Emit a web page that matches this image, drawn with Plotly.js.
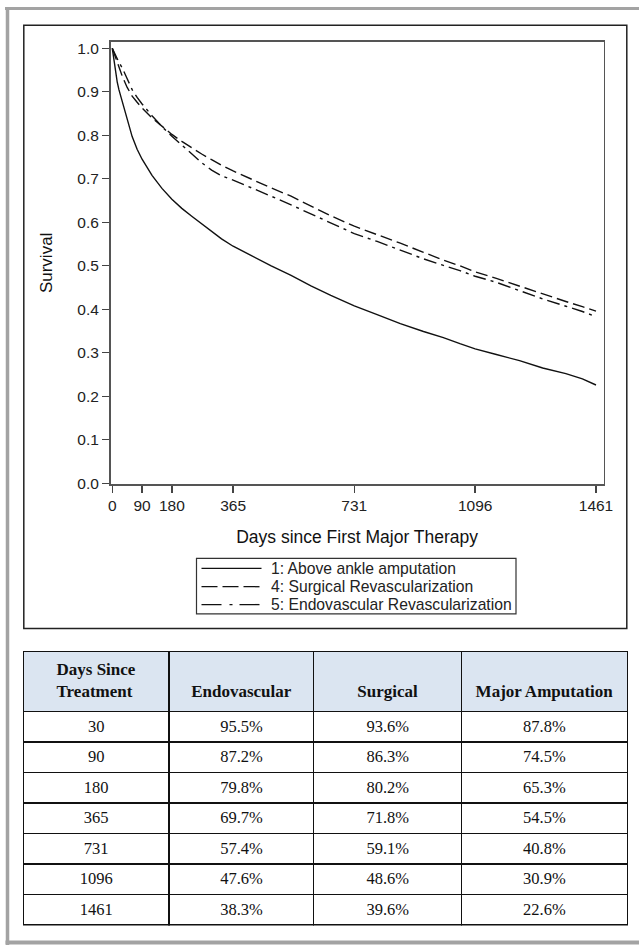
<!DOCTYPE html>
<html>
<head>
<meta charset="utf-8">
<script src="https://cdn.plot.ly/plotly-3.0.1.min.js"></script>
<style>
html,body{margin:0;padding:0;background:#fff;}
#chart{width:639px;height:946px;}
</style>
</head>
<body>
<div id="chart"></div>
<script>
// ---- Curve data ----
var curveDays = [0,5,10,15,20,30,45,60,75,90,120,150,180,210,240,270,300,330,365,420,480,540,600,660,731,800,870,940,1000,1050,1096,1160,1230,1300,1370,1420,1461];
var amputationSurv = [1.0,0.97,0.945,0.922,0.905,0.878,0.835,0.797,0.768,0.745,0.708,0.678,0.653,0.632,0.614,0.597,0.581,0.562,0.545,0.523,0.5,0.478,0.454,0.432,0.408,0.388,0.367,0.349,0.335,0.321,0.309,0.296,0.282,0.265,0.252,0.24,0.226];
var surgicalSurv = [1.0,0.989,0.978,0.966,0.955,0.936,0.91,0.89,0.876,0.863,0.84,0.82,0.802,0.786,0.771,0.757,0.744,0.731,0.718,0.699,0.679,0.66,0.638,0.615,0.591,0.572,0.552,0.531,0.513,0.5,0.486,0.471,0.453,0.435,0.418,0.406,0.396];
var endovascularSurv = [1.0,0.993,0.985,0.976,0.968,0.955,0.93,0.905,0.887,0.872,0.845,0.82,0.798,0.777,0.756,0.737,0.72,0.707,0.697,0.68,0.66,0.64,0.619,0.597,0.574,0.556,0.536,0.516,0.501,0.489,0.476,0.462,0.443,0.424,0.407,0.395,0.383];
var seriesNames = ["1: Above ankle amputation","4: Surgical Revascularization","5: Endovascular Revascularization"];

// ---- Axis ticks ----
var xTicks = [0,90,180,365,731,1096,1461];
var yTicks = [0,0.1,0.2,0.3,0.4,0.5,0.6,0.7,0.8,0.9,1.0];

// ---- Table data ----
var tableHeaders = ["Days Since<br>Treatment","Endovascular","Surgical","Major Amputation"];
var tableDays = [30,90,180,365,731,1096,1461];
var tableEndo = [95.5,87.2,79.8,69.7,57.4,47.6,38.3];
var tableSurg = [93.6,86.3,80.2,71.8,59.1,48.6,39.6];
var tableAmp = [87.8,74.5,65.3,54.5,40.8,30.9,22.6];

var W = 639, H = 946;
function px(x){return x/W;}
function py(y){return 1 - y/H;}
function pct(a){return a.map(function(v){return v.toFixed(1)+"%";});}

var curveDash = ["solid","12px,5px","13px,5px,3px,5px"];
var legendDash = ["solid","16px,5px","20px,8px,3px,7px"];
var survSeries = [amputationSurv, surgicalSurv, endovascularSurv];

var traces = survSeries.map(function(s, i){
  return {type:"scatter", mode:"lines", x:curveDays, y:s, name:seriesNames[i],
    line:{color:"#111", width:1.4, dash:curveDash[i]}, xaxis:"x", yaxis:"y", showlegend:false};
});
var serif = "Liberation Serif, Times New Roman, serif";
function headerText(h){
  var lines = h.split("<br>").map(function(l){return "<b>"+l+"</b>";});
  if(lines.length < 2) lines.unshift("\u00a0");
  return lines.join("<br>");
}
traces.push({type:"table", domain:{x:[px(23.3), px(627.7)], y:[py(925.5), py(651.5)]},
   columnwidth:[146,145,148,166],
   header:{values:tableHeaders.map(headerText),
     fill:{color:"#dbe5f1"}, line:{color:"#111", width:1.2},
     font:{family:serif, size:17, color:"#111"},
     align:"center", height:60},
   cells:{values:[tableDays.map(String), pct(tableEndo), pct(tableSurg), pct(tableAmp)],
     fill:{color:"#fff"}, line:{color:"#111", width:1.2},
     font:{family:serif, size:16.5, color:"#111"},
     align:"center", height:30.5}});

var sans = "Liberation Sans, Arial, sans-serif";
var axisFont = {family:sans, size:15.5, color:"#222"};

// manual legend (box, samples, labels)
var legRows = [568.3, 586.7, 604.6];
var shapes = [
  {type:"line", xref:"paper", yref:"paper", x0:px(5), x1:1, y0:py(8.5), y1:py(8.5), line:{color:"#a3a3a3", width:3}},
  {type:"line", xref:"paper", yref:"paper", x0:px(7.5), x1:px(7.5), y0:py(7), y1:py(945), line:{color:"#a3a3a3", width:3.5}},
  {type:"line", xref:"paper", yref:"paper", x0:px(5.5), x1:1, y0:py(942.5), y1:py(942.5), line:{color:"#a3a3a3", width:4}},
  {type:"rect", xref:"paper", yref:"paper", x0:px(23.8), x1:px(626.8), y0:py(25.2), y1:py(628.5), line:{color:"#222", width:1.5}, fillcolor:"rgba(0,0,0,0)"},
  {type:"rect", xref:"paper", yref:"paper", x0:px(196.5), x1:px(516), y0:py(558.3), y1:py(613.8), line:{color:"#333", width:1.2}, fillcolor:"#fff"}
];
var annotations = [];
seriesNames.forEach(function(n, i){
  shapes.push({type:"line", xref:"paper", yref:"paper", x0:px(201.5), x1:px(261.5), y0:py(legRows[i]), y1:py(legRows[i]),
    line:{color:"#111", width:1.3, dash:legendDash[i]}});
  annotations.push({xref:"paper", yref:"paper", x:px(268.5), y:py(legRows[i]), xanchor:"left", yanchor:"middle",
    text:n, showarrow:false, font:{family:sans, size:15.7, color:"#222"}});
});

var layout = {
  width:W, height:H, autosize:false,
  margin:{l:0,r:0,t:0,b:0,pad:0},
  paper_bgcolor:"#fff", plot_bgcolor:"#fff",
  font:{family:sans, color:"#222"},
  showlegend:false,
  xaxis:{domain:[px(110.5), px(603.7)], range:[-5.4,1484.3], tickvals:xTicks,
    ticktext:xTicks.map(String),
    ticks:"outside", ticklen:7, tickwidth:1.3, tickcolor:"#444",
    showline:true, linecolor:"#555", linewidth:1.5, mirror:true,
    showgrid:false, zeroline:false, tickfont:axisFont,
    title:{text:"Days since First Major Therapy", font:{family:sans, size:17.5, color:"#111"}, standoff:17}},
  yaxis:{domain:[py(484), py(41.7)], range:[-0.0016,1.0152], tickvals:yTicks,
    ticktext:yTicks.map(function(v){return v.toFixed(1);}),
    ticks:"outside", ticklen:7, tickwidth:1.3, tickcolor:"#444",
    showline:true, linecolor:"#555", linewidth:1.5, mirror:true,
    showgrid:false, zeroline:false, tickfont:axisFont,
    title:{text:"Survival", font:{family:sans, size:17, color:"#111"}, standoff:20}},
  shapes:shapes,
  annotations:annotations
};

Plotly.newPlot("chart", traces, layout, {staticPlot:true, displayModeBar:false});
</script>
</body>
</html>
